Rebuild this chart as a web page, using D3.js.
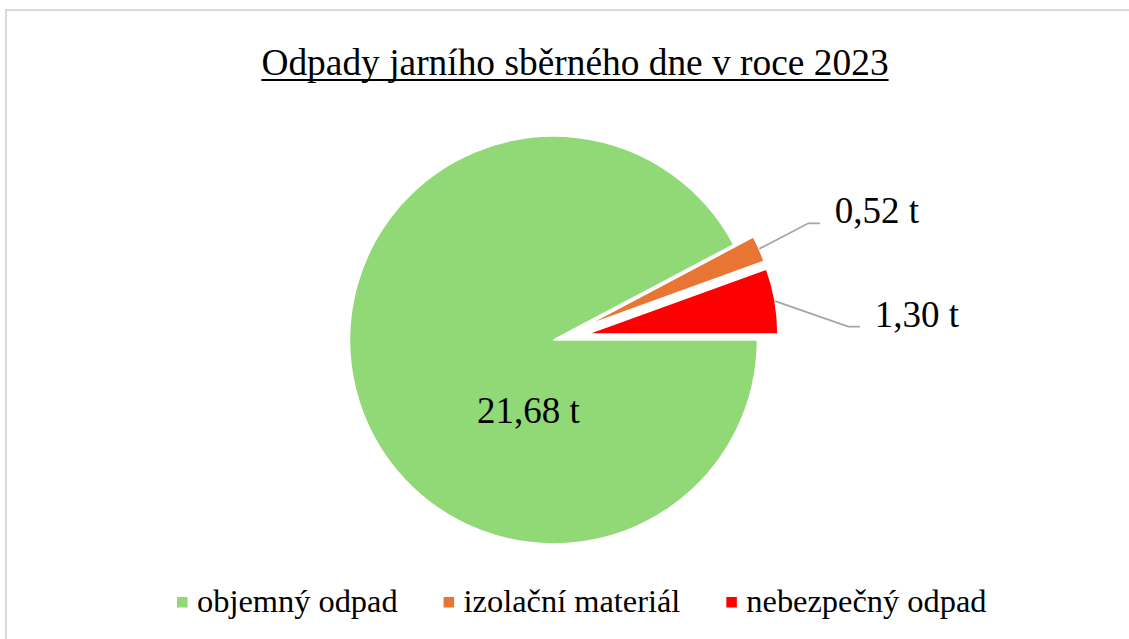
<!DOCTYPE html>
<html><head><meta charset="utf-8">
<script src="https://cdn.jsdelivr.net/npm/d3@7"></script>
<style>body{margin:0;background:#fff} svg{display:block}</style>
</head><body><svg id="c" width="1129" height="639"></svg>
<script>
const title = "Odpady jarního sběrného dne v roce 2023";
const categories = ["objemný odpad", "izolační materiál", "nebezpečný odpad"];
const values = [21.68, 0.52, 1.30];
const valueLabels = ["21,68 t", "0,52 t", "1,30 t"];
const colors = ["#91D977", "#E97535", "#FF0000"];
const exploded = [false, true, true];

const W = 1129, H = 639;
const FONT = "'Liberation Serif','Times New Roman',serif";
const svg = d3.select("#c");

// chart border
svg.append("rect").attr("x", 6).attr("y", 10).attr("width", W + 10).attr("height", H + 10)
  .attr("fill", "#fff").attr("stroke", "#D9D9D9").attr("stroke-width", 2);

// title
const tt = svg.append("text").attr("x", 575).attr("y", 75).attr("text-anchor", "middle")
  .attr("font-family", FONT).attr("font-size", 37.4).attr("fill", "#000").text(title);
const tw = tt.node().getComputedTextLength();
svg.append("line").attr("x1", 575 - tw / 2).attr("x2", 575 + tw / 2).attr("y1", 80).attr("y2", 80)
  .attr("stroke", "#000").attr("stroke-width", 2);

// pie
const cx = 553.5, cy = 340, R = 204, Rex = 191, explode = 34;
const pie = d3.pie().sort(null).value(d => d)
  .startAngle(Math.PI / 2).endAngle(Math.PI / 2 + 2 * Math.PI);
const arcs = pie(values);
const g = svg.append("g").attr("transform", `translate(${cx},${cy})`);

const labelLayout = [
  { text: [-25, 83] },
  { elbow: [254.8, -116.7] },
  { elbow: [294.8, -13.3] }
];

arcs.forEach((a, i) => {
  const mid = (a.startAngle + a.endAngle) / 2;
  const off = exploded[i] ? explode : 0;
  const dx = off * Math.sin(mid), dy = -off * Math.cos(mid);
  const r = exploded[i] ? Rex : R;
  const arc = d3.arc().innerRadius(0).outerRadius(r);
  g.append("path").attr("d", arc(a)).attr("transform", `translate(${dx},${dy})`)
    .attr("fill", colors[i]).attr("stroke", "#fff").attr("stroke-width", 1.6);
});

arcs.forEach((a, i) => {
  const mid = (a.startAngle + a.endAngle) / 2;
  const L = labelLayout[i];
  if (L.text) {
    g.append("text").attr("x", L.text[0]).attr("y", L.text[1]).attr("text-anchor", "middle")
      .attr("font-family", FONT).attr("font-size", 37).attr("fill", "#000").text(valueLabels[i]);
  } else {
    const off = exploded[i] ? explode : 0;
    const r = exploded[i] ? Rex : R;
    const sx = (off + r) * Math.sin(mid), sy = -(off + r) * Math.cos(mid);
    const ex = L.elbow[0], ey = L.elbow[1];
    g.append("polyline").attr("points", `${sx},${sy} ${ex},${ey} ${ex + 11.7},${ey}`)
      .attr("fill", "none").attr("stroke", "#A6A6A6").attr("stroke-width", 1.8);
    g.append("text").attr("x", ex + 26.5).attr("y", ey).attr("font-family", FONT)
      .attr("font-size", 37).attr("fill", "#000").text(valueLabels[i]);
  }
});

// legend
let lx = 177;
const ly = 612;
categories.forEach((c, i) => {
  svg.append("rect").attr("x", lx).attr("y", 597).attr("width", 10.5).attr("height", 10.5).attr("fill", colors[i]);
  const t = svg.append("text").attr("x", lx + 20).attr("y", ly).attr("font-family", FONT)
    .attr("font-size", 32.4).attr("fill", "#000").text(c);
  lx += 20 + t.node().getComputedTextLength() + 46;
});
</script></body></html>
